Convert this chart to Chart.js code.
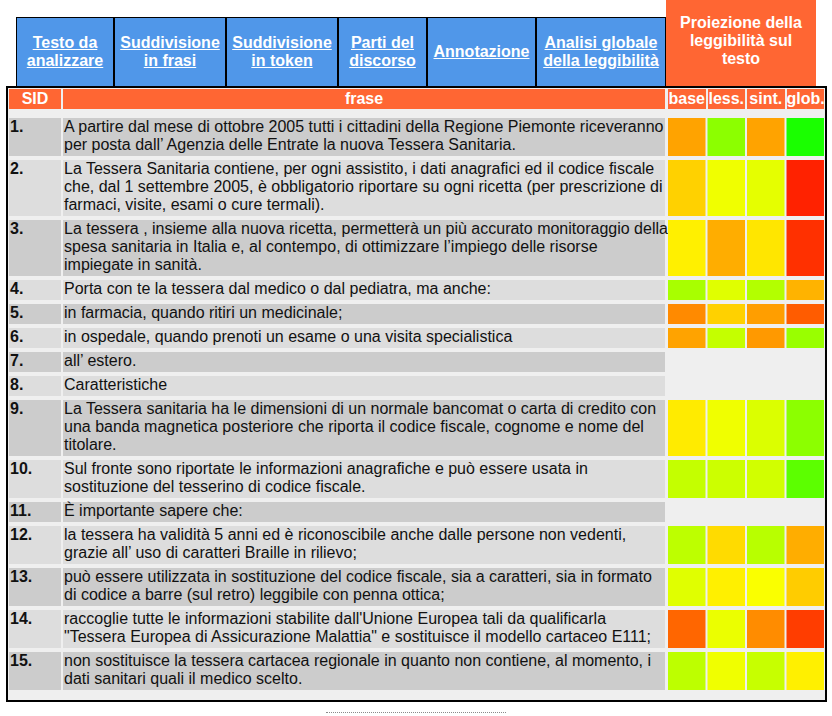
<!DOCTYPE html>
<html>
<head>
<meta charset="utf-8">
<script src="https://cdn.jsdelivr.net/npm/chart.js@4/dist/chart.umd.min.js"></script>
<style>
  html, body { margin: 0; padding: 0; background: #ffffff; }
  body { width: 832px; height: 716px; position: relative; overflow: hidden;
         font-family: "Liberation Sans", Arial, sans-serif; font-size: 16px; }
  .abs { position: absolute; box-sizing: border-box; }
  .tab { background: #5097e9; border: 1px solid #000; color: #fff; font-weight: bold;
         text-decoration: underline; display: flex; align-items: center; justify-content: center;
         text-align: center; line-height: 18px; }
  .proj { background: #ff6633; color: #fff; font-weight: bold; display: flex; align-items: center;
          justify-content: center; text-align: center; line-height: 18px; padding-bottom: 4px; }
  .table { border: 2px solid #000; background: #efefef; }
  .hcell { background: #ff6633; color: #fff; font-weight: bold; text-align: center; line-height: 20px; height: 20px; white-space: nowrap; }
  .sid { font-weight: bold; padding: 0 0 0 1px; line-height: 18px; color: #111; }
  .frase { padding: 0 0 0 1px; line-height: 18px; color: #111; white-space: nowrap; }
  .dots { border-top: 1px dotted #8a8a8a; height: 0; }
</style>
</head>
<body>
<div id="root"></div>
<canvas id="cells" class="abs" style="left:667px;top:0;width:158px;height:716px" width="158" height="716"></canvas>
<script>
// ---------- data ----------
const tabLabels = [
  ["Testo da", "analizzare"],
  ["Suddivisione", "in frasi"],
  ["Suddivisione", "in token"],
  ["Parti del", "discorso"],
  ["Annotazione"],
  ["Analisi globale", "della leggibilità"]
];
const projLabel = ["Proiezione della", "leggibilità sul", "testo"];
const headSid = "SID";
const headFrase = "frase";
const colLabels = ["base", "less.", "sint.", "glob."];
const sids = ["1.", "2.", "3.", "4.", "5.", "6.", "7.", "8.", "9.", "10.", "11.", "12.", "13.", "14.", "15."];
const frasi = [
  ["A partire dal mese di ottobre 2005 tutti i cittadini della Regione Piemonte riceveranno",
   "per posta dall’ Agenzia delle Entrate la nuova Tessera Sanitaria."],
  ["La Tessera Sanitaria contiene, per ogni assistito, i dati anagrafici ed il codice fiscale",
   "che, dal 1 settembre 2005, è obbligatorio riportare su ogni ricetta (per prescrizione di",
   "farmaci, visite, esami o cure termali)."],
  ["La tessera , insieme alla nuova ricetta, permetterà un più accurato monitoraggio della",
   "spesa sanitaria in Italia e, al contempo, di ottimizzare l’impiego delle risorse",
   "impiegate in sanità."],
  ["Porta con te la tessera dal medico o dal pediatra, ma anche:"],
  ["in farmacia, quando ritiri un medicinale;"],
  ["in ospedale, quando prenoti un esame o una visita specialistica"],
  ["all’ estero."],
  ["Caratteristiche"],
  ["La Tessera sanitaria ha le dimensioni di un normale bancomat o carta di credito con",
   "una banda magnetica posteriore che riporta il codice fiscale, cognome e nome del",
   "titolare."],
  ["Sul fronte sono riportate le informazioni anagrafiche e può essere usata in",
   "sostituzione del tesserino di codice fiscale."],
  ["È importante sapere che:"],
  ["la tessera ha validità 5 anni ed è riconoscibile anche dalle persone non vedenti,",
   "grazie all’ uso di caratteri Braille in rilievo;"],
  ["può essere utilizzata in sostituzione del codice fiscale, sia a caratteri, sia in formato",
   "di codice a barre (sul retro) leggibile con penna ottica;"],
  ["raccoglie tutte le informazioni stabilite dall'Unione Europea tali da qualificarla",
   "\"Tessera Europea di Assicurazione Malattia\" e sostituisce il modello cartaceo E111;"],
  ["non sostituisce la tessera cartacea regionale in quanto non contiene, al momento, i",
   "dati sanitari quali il medico scelto."]
];
// readability scores (0 = bad / red, 100 = good / green)
const base = [32, 41, 47, 67, 27, 32, null, null, 46, 61.5, null, 63, 56, 20, 63];
const less = [72.5, 53, 34, 56, 41, 61.5, null, null, 53, 60, null, 43, 47, 54, 53];
const sint = [32, 55, 45, 65, 31, 30, null, null, 57, 59, null, 64, 51, 27.5, 61];
const glob = [95, 6.7, 9.4, 35, 18, 70, null, null, 72.5, 82, null, 34, 40, 12, 47];

// ---------- layout ----------
const root = document.getElementById('root');
function el(cls, style, html) {
  const d = document.createElement('div');
  d.className = 'abs ' + cls;
  Object.assign(d.style, style);
  if (html !== undefined) d.innerHTML = html;
  root.appendChild(d);
  return d;
}
const esc = s => s.replace(/&/g, '&amp;').replace(/</g, '&lt;').replace(/>/g, '&gt;');

const tabEdges = [16, 114, 226, 338, 427, 536, 666];
tabLabels.forEach((t, i) => {
  el('tab', { left: tabEdges[i] + 'px', top: '17px', width: (tabEdges[i + 1] - tabEdges[i]) + 'px', height: '70px' },
     '<span>' + t.map(esc).join('<br>') + '</span>');
});
el('proj', { left: '666px', top: '0px', width: '150px', height: '86px' }, '<span>' + projLabel.map(esc).join('<br>') + '</span>');
el('table', { left: '6px', top: '86px', width: '821px', height: '616px' });

const HEAD_TOP = 89, FIRST_ROW = 118, LINE = 18, GAP = 4;
const CELL_L = 667, CELL_W = 158, SLOT = CELL_W / colLabels.length, BAR = SLOT - 2;
el('hcell', { left: '9px', top: HEAD_TOP + 'px', width: '52px' }, headSid);
el('hcell', { left: '63px', top: HEAD_TOP + 'px', width: '602px' }, headFrase);
colLabels.forEach((c, j) => {
  el('hcell', { left: (CELL_L + j * SLOT + 1) + 'px', top: HEAD_TOP + 'px', width: BAR + 'px' }, c);
});

const rowTop = [], rowBot = [];
let y = FIRST_ROW;
frasi.forEach((lines, i) => {
  const h = lines.length * LINE + 2;
  rowTop.push(y); rowBot.push(y + h);
  const bg = i % 2 === 0 ? '#cccccc' : '#dddddd';
  el('sid', { left: '9px', top: y + 'px', width: '52px', height: h + 'px', background: bg }, esc(sids[i]));
  el('frase', { left: '63px', top: y + 'px', width: '602px', height: h + 'px', background: bg }, lines.map(esc).join('<br>'));
  y += h + GAP;
});
el('dots', { left: '326px', top: '712px', width: '180px' });

// ---------- chart ----------
function scoreColor(s) {
  const t = Math.max(0, Math.min(1, s / 100));
  let r, g;
  if (t < 0.5) { r = 255; g = Math.round(510 * t); }
  else { r = Math.round(510 * (1 - t)); g = 255; }
  return 'rgb(' + r + ',' + g + ',0)';
}
const series = [base, less, sint, glob];
const datasets = frasi.map((_, i) => {
  const vals = series.map(s => s[i]);
  return {
    label: sids[i],
    data: vals.map(v => v == null ? null : [rowTop[i], rowBot[i]]),
    backgroundColor: vals.map(v => v == null ? 'rgba(0,0,0,0)' : scoreColor(v)),
    borderWidth: 0,
    grouped: false,
    categoryPercentage: 1,
    barPercentage: BAR / SLOT
  };
});
new Chart(document.getElementById('cells'), {
  type: 'bar',
  data: { labels: colLabels, datasets },
  options: {
    responsive: false,
    animation: false,
    devicePixelRatio: 1,
    layout: { padding: 0 },
    plugins: { legend: { display: false }, tooltip: { enabled: false } },
    scales: {
      x: { display: false },
      y: { display: false, min: 0, max: 716, reverse: true }
    }
  }
});
</script>
</body>
</html>
